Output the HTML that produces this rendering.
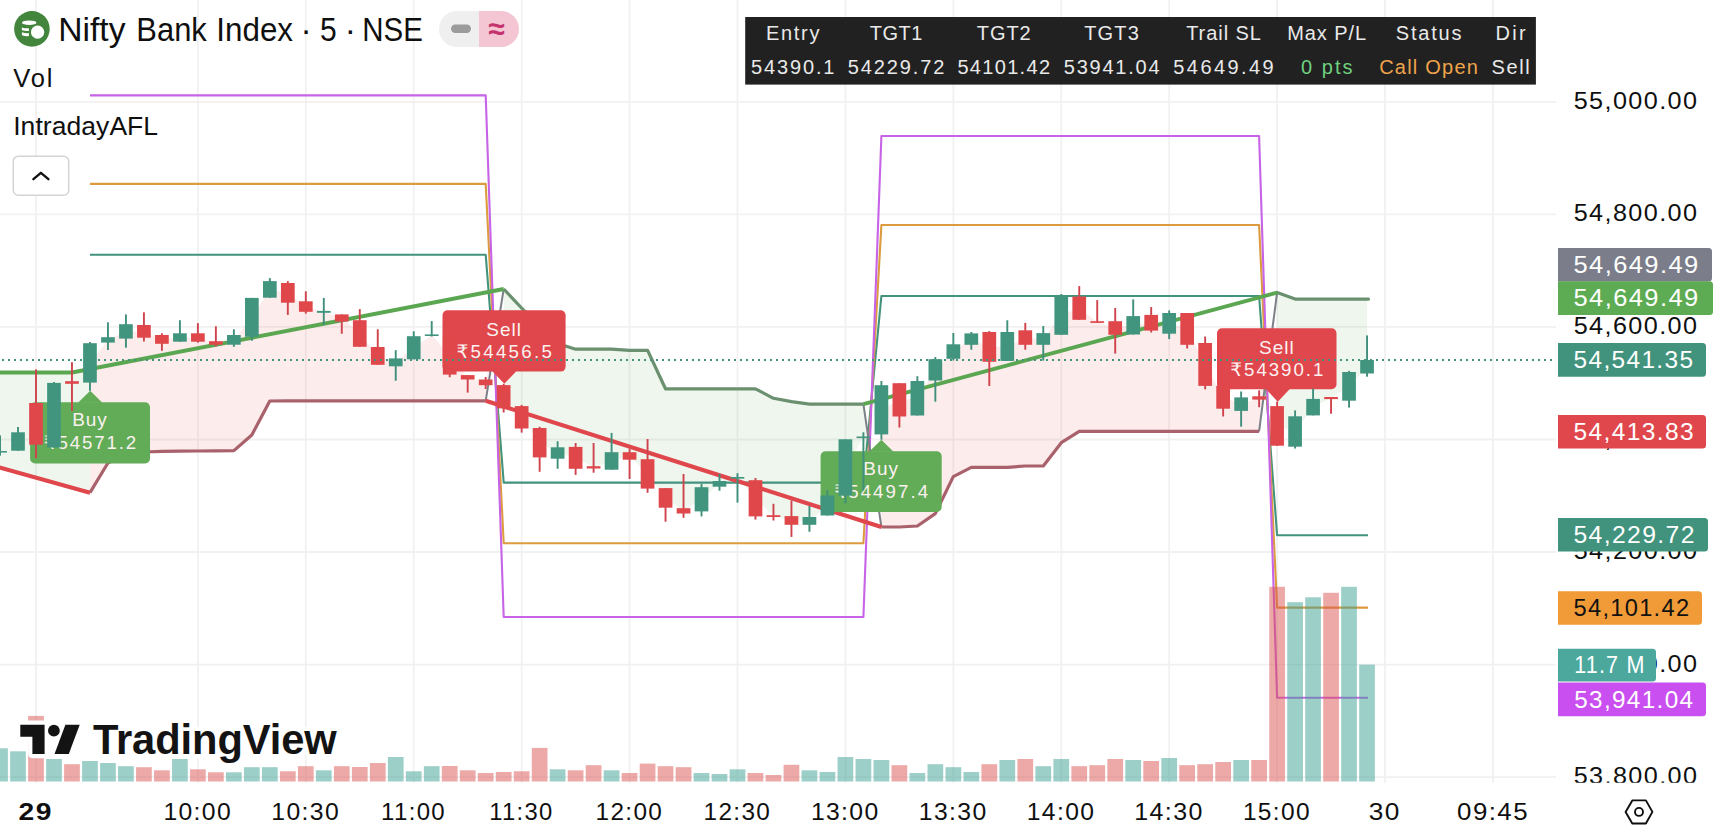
<!DOCTYPE html>
<html><head><meta charset="utf-8"><title>Nifty Bank Index chart</title>
<style>html,body{margin:0;padding:0;background:#fff}body{width:1718px;height:828px;overflow:hidden}svg{display:block}</style></head>
<body>
<svg width="1718" height="828" viewBox="0 0 1718 828" font-family="'Liberation Sans', 'DejaVu Sans', sans-serif">
<rect width="1718" height="828" fill="#fff"/>
<g stroke="#f1f1f1" stroke-width="1.8">
<line x1="36.0" y1="0" x2="36.0" y2="783"/>
<line x1="197.88299999999998" y1="0" x2="197.88299999999998" y2="783"/>
<line x1="305.80499999999995" y1="0" x2="305.80499999999995" y2="783"/>
<line x1="413.727" y1="0" x2="413.727" y2="783"/>
<line x1="521.6489999999999" y1="0" x2="521.6489999999999" y2="783"/>
<line x1="629.5709999999999" y1="0" x2="629.5709999999999" y2="783"/>
<line x1="737.4929999999999" y1="0" x2="737.4929999999999" y2="783"/>
<line x1="845.415" y1="0" x2="845.415" y2="783"/>
<line x1="953.3369999999999" y1="0" x2="953.3369999999999" y2="783"/>
<line x1="1061.259" y1="0" x2="1061.259" y2="783"/>
<line x1="1169.1809999999998" y1="0" x2="1169.1809999999998" y2="783"/>
<line x1="1277.1029999999998" y1="0" x2="1277.1029999999998" y2="783"/>
<line x1="1385.0249999999999" y1="0" x2="1385.0249999999999" y2="783"/>
<line x1="1492.947" y1="0" x2="1492.947" y2="783"/>
<line x1="0" y1="101.8" x2="1556" y2="101.8"/>
<line x1="0" y1="214.4" x2="1556" y2="214.4"/>
<line x1="0" y1="326.9" x2="1556" y2="326.9"/>
<line x1="0" y1="439.5" x2="1556" y2="439.5"/>
<line x1="0" y1="552.0" x2="1556" y2="552.0"/>
<line x1="0" y1="664.6" x2="1556" y2="664.6"/>
<line x1="0" y1="777.2" x2="1556" y2="777.2"/>
</g>
<polygon points="0.0,372.5 72.0,372.5 90.0,369.0 90.0,492.7 0.0,467.5" fill="rgba(92,166,82,0.10)"/>
<polygon points="90.0,492.7 107.9,463.0 125.9,454.0 143.9,452.0 161.9,451.4 179.9,451.2 197.9,451.0 215.9,450.8 233.9,450.6 251.8,435.0 269.8,401.0 287.8,400.8 305.8,400.8 323.8,400.8 341.8,400.8 359.8,400.8 377.8,400.8 395.7,400.8 413.7,400.8 431.7,400.8 449.7,400.8 467.7,400.8 485.7,400.8 503.7,289.0 485.7,382.4 467.7,377.3 449.7,355.3 431.7,335.2 413.7,347.8 395.7,362.4 377.8,355.9 359.8,333.5 341.8,318.0 323.8,311.9 305.8,306.6 287.8,292.9 269.8,289.4 251.8,317.4 233.9,339.9 215.9,342.9 197.9,337.5 179.9,337.5 161.9,339.4 143.9,331.4 125.9,331.4 107.9,339.9 90.0,362.9" fill="rgba(226,72,76,0.105)"/>
<polygon points="503.7,289.0 521.6,308.0 539.6,326.7 557.6,343.5 575.6,349.2 593.6,349.2 611.6,349.2 629.6,350.4 647.6,350.4 665.5,388.8 683.5,388.8 701.5,388.8 719.5,388.8 737.5,388.8 755.5,388.8 773.5,398.3 791.5,401.6 809.4,404.2 827.4,404.2 845.4,404.2 863.4,404.2 881.4,527.0 863.4,437.2 845.4,467.5 827.4,505.4 809.4,520.9 791.5,520.5 773.5,516.1 755.5,498.3 737.5,477.8 719.5,483.9 701.5,499.3 683.5,510.9 665.5,497.9 647.6,473.9 629.6,455.9 611.6,460.9 593.6,467.4 575.6,457.9 557.6,453.0 539.6,442.7 521.6,417.3 503.7,396.8" fill="rgba(92,166,82,0.10)"/>
<polygon points="881.4,527.0 899.4,527.0 917.4,526.0 935.3,513.6 953.3,476.6 971.3,467.4 989.3,467.4 1007.3,467.4 1025.3,466.0 1043.3,466.0 1061.3,442.7 1079.2,431.4 1097.2,431.4 1115.2,431.4 1133.2,431.4 1151.2,431.4 1169.2,431.4 1187.2,431.4 1205.2,431.4 1223.1,431.4 1241.1,431.4 1259.1,431.4 1277.1,292.6 1259.1,398.0 1241.1,404.1 1223.1,397.3 1205.2,364.4 1187.2,328.9 1169.2,323.4 1151.2,322.8 1133.2,325.3 1115.2,328.0 1097.2,322.0 1079.2,308.2 1061.3,315.1 1043.3,339.0 1025.3,337.6 1007.3,346.4 989.3,346.9 971.3,339.1 953.3,351.6 935.3,369.9 917.4,398.2 899.4,399.9 881.4,409.8" fill="rgba(226,72,76,0.105)"/>
<polygon points="1277.1,292.6 1295.1,299.1 1313.1,299.1 1331.1,299.1 1349.1,299.1 1367.0,299.1 1367.0,366.8 1349.1,386.4 1331.1,398.1 1313.1,407.1 1295.1,431.5 1277.1,425.9" fill="rgba(92,166,82,0.10)"/>
<polyline points="90.0,254.8 485.7,254.8 503.7,482.6 863.4,482.6 881.4,296.0 1259.1,296.0 1277.1,535.2 1368.0,535.2" fill="none" stroke="#42937d" stroke-width="2.1" stroke-linejoin="round"/>
<polyline points="90.0,183.9 485.7,183.9 503.7,543.2 863.4,543.2 881.4,225.0 1259.1,225.0 1277.1,607.6 1368.0,607.6" fill="none" stroke="#dc9b3e" stroke-width="2.1" stroke-linejoin="round"/>
<polyline points="90.0,95.4 485.7,95.4 503.7,617.0 863.4,617.0 881.4,136.0 1259.1,136.0 1277.1,697.8 1368.0,697.8" fill="none" stroke="#c763e6" stroke-width="2.1" stroke-linejoin="round"/>
<polyline points="485.7,400.8 503.7,289.0" fill="none" stroke="#7c8088" stroke-width="2" />
<polyline points="863.4,404.2 881.4,527.0" fill="none" stroke="#7c8088" stroke-width="2" />
<polyline points="1259.1,431.4 1277.1,292.6" fill="none" stroke="#7c8088" stroke-width="2" />
<polyline points="90.0,492.7 107.9,463.0 125.9,454.0 143.9,452.0 161.9,451.4 179.9,451.2 197.9,451.0 215.9,450.8 233.9,450.6 251.8,435.0 269.8,401.0 287.8,400.8 305.8,400.8 323.8,400.8 341.8,400.8 359.8,400.8 377.8,400.8 395.7,400.8 413.7,400.8 431.7,400.8 449.7,400.8 467.7,400.8 485.7,400.8" fill="none" stroke="#a9616b" stroke-width="3.2" stroke-linejoin="round"/>
<polyline points="881.4,527.0 899.4,527.0 917.4,526.0 935.3,513.6 953.3,476.6 971.3,467.4 989.3,467.4 1007.3,467.4 1025.3,466.0 1043.3,466.0 1061.3,442.7 1079.2,431.4 1097.2,431.4 1115.2,431.4 1133.2,431.4 1151.2,431.4 1169.2,431.4 1187.2,431.4 1205.2,431.4 1223.1,431.4 1241.1,431.4 1259.1,431.4" fill="none" stroke="#a9616b" stroke-width="3.2" stroke-linejoin="round"/>
<polyline points="503.7,289.0 521.6,308.0 539.6,326.7 557.6,343.5 575.6,349.2 593.6,349.2 611.6,349.2 629.6,350.4 647.6,350.4 665.5,388.8 683.5,388.8 701.5,388.8 719.5,388.8 737.5,388.8 755.5,388.8 773.5,398.3 791.5,401.6 809.4,404.2 827.4,404.2 845.4,404.2 863.4,404.2" fill="none" stroke="#6b9070" stroke-width="3.2" stroke-linejoin="round"/>
<polyline points="1277.1,292.6 1295.1,299.1 1313.1,299.1 1331.1,299.1 1349.1,299.1 1367.0,299.1 1368.5,299.1" fill="none" stroke="#6b9070" stroke-width="3.2" stroke-linejoin="round" stroke-linecap="round"/>
<polyline points="0.0,372.5 72.0,372.5 503.7,289.0" fill="none" stroke="#5aa651" stroke-width="3.9" stroke-linejoin="round"/>
<polyline points="863.4,404.2 1277.1,292.6" fill="none" stroke="#5aa651" stroke-width="3.9" />
<polyline points="-2.0,467.0 90.0,492.7" fill="none" stroke="#e0474c" stroke-width="4.2" />
<polyline points="485.7,400.8 881.4,527.0" fill="none" stroke="#e0474c" stroke-width="4.2" />
<rect x="30.1" y="402.2" width="119.9" height="61.3" rx="5" fill="#62ab57"/>
<polygon points="78.0,402.7 90.2,390.8 102.4,402.7" fill="#62ab57"/>
<text x="90.0" y="425.7" font-size="19" fill="#fbf1f0" text-anchor="middle" letter-spacing="1">Buy</text>
<text x="90.0" y="449.1" font-size="18.7" fill="#fbf1f0" text-anchor="middle" textLength="92.4" lengthAdjust="spacing" >₹54571.2</text>
<rect x="442.5" y="310.3" width="123.1" height="61.3" rx="5" fill="#e0474c"/>
<polygon points="492.1,371.1 504.3,383.8 516.5,371.1" fill="#e0474c"/>
<text x="504.1" y="335.9" font-size="19" fill="#fbf1f0" text-anchor="middle" letter-spacing="1">Sell</text>
<text x="504.1" y="358.2" font-size="18.7" fill="#fbf1f0" text-anchor="middle" textLength="95.4" lengthAdjust="spacing" >₹54456.5</text>
<rect x="820.6" y="451.3" width="121.1" height="60.7" rx="5" fill="#62ab57"/>
<polygon points="869.1,451.8 881.3,439.7 893.5,451.8" fill="#62ab57"/>
<text x="881.2" y="474.8" font-size="19" fill="#fbf1f0" text-anchor="middle" letter-spacing="1">Buy</text>
<text x="881.2" y="498.2" font-size="18.7" fill="#fbf1f0" text-anchor="middle" textLength="93.9" lengthAdjust="spacing" >₹54497.4</text>
<rect x="1217" y="328.3" width="119.5" height="61.0" rx="5" fill="#e0474c"/>
<polygon points="1265.6,388.8 1277.8,401.7 1290.0,388.8" fill="#e0474c"/>
<text x="1276.8" y="353.9" font-size="19" fill="#fbf1f0" text-anchor="middle" letter-spacing="1">Sell</text>
<text x="1276.8" y="376.2" font-size="18.7" fill="#fbf1f0" text-anchor="middle" textLength="93.1" lengthAdjust="spacing" >₹54390.1</text>
<g>
<rect x="-0.92" y="435.4" width="1.9" height="20.2" fill="#3f8f7b"/>
<rect x="-6.82" y="451.0" width="13.7" height="1.6" fill="#41957f"/>
<rect x="17.06" y="427.0" width="1.9" height="23.7" fill="#3f8f7b"/>
<rect x="11.16" y="432.3" width="13.7" height="18.4" fill="#41957f"/>
<rect x="35.05" y="369.4" width="1.9" height="88.8" fill="#cf434c"/>
<rect x="29.15" y="403.0" width="13.7" height="41.7" fill="#e0474b"/>
<rect x="53.04" y="382.0" width="1.9" height="65.5" fill="#3f8f7b"/>
<rect x="47.14" y="382.9" width="13.7" height="64.6" fill="#41957f"/>
<rect x="71.02" y="362.2" width="1.9" height="48.8" fill="#cf434c"/>
<rect x="65.12" y="381.2" width="13.7" height="2.6" fill="#e0474b"/>
<rect x="89.01" y="342.0" width="1.9" height="48.8" fill="#3f8f7b"/>
<rect x="83.11" y="343.2" width="13.7" height="39.4" fill="#41957f"/>
<rect x="107.00" y="322.3" width="1.9" height="27.7" fill="#3f8f7b"/>
<rect x="101.10" y="337.2" width="13.7" height="5.4" fill="#41957f"/>
<rect x="124.98" y="314.4" width="1.9" height="33.3" fill="#3f8f7b"/>
<rect x="119.08" y="324.2" width="13.7" height="14.4" fill="#41957f"/>
<rect x="142.97" y="312.3" width="1.9" height="29.2" fill="#cf434c"/>
<rect x="137.07" y="325.0" width="13.7" height="12.7" fill="#e0474b"/>
<rect x="160.96" y="333.3" width="1.9" height="17.5" fill="#cf434c"/>
<rect x="155.06" y="335.0" width="13.7" height="8.8" fill="#e0474b"/>
<rect x="178.95" y="320.2" width="1.9" height="21.5" fill="#3f8f7b"/>
<rect x="173.05" y="333.3" width="13.7" height="8.4" fill="#41957f"/>
<rect x="196.93" y="323.1" width="1.9" height="19.5" fill="#cf434c"/>
<rect x="191.03" y="333.3" width="13.7" height="8.4" fill="#e0474b"/>
<rect x="214.92" y="326.3" width="1.9" height="20.1" fill="#cf434c"/>
<rect x="209.02" y="341.2" width="13.7" height="3.5" fill="#e0474b"/>
<rect x="232.91" y="329.3" width="1.9" height="17.5" fill="#3f8f7b"/>
<rect x="227.01" y="335.0" width="13.7" height="9.7" fill="#41957f"/>
<rect x="250.89" y="297.9" width="1.9" height="42.8" fill="#3f8f7b"/>
<rect x="244.99" y="297.9" width="13.7" height="38.9" fill="#41957f"/>
<rect x="268.88" y="278.1" width="1.9" height="19.6" fill="#3f8f7b"/>
<rect x="262.98" y="281.1" width="13.7" height="16.6" fill="#41957f"/>
<rect x="286.87" y="281.1" width="1.9" height="33.8" fill="#cf434c"/>
<rect x="280.97" y="283.0" width="13.7" height="19.7" fill="#e0474b"/>
<rect x="304.85" y="291.3" width="1.9" height="22.4" fill="#cf434c"/>
<rect x="298.95" y="301.3" width="13.7" height="10.5" fill="#e0474b"/>
<rect x="322.84" y="297.9" width="1.9" height="27.1" fill="#3f8f7b"/>
<rect x="316.94" y="310.9" width="13.7" height="1.9" fill="#41957f"/>
<rect x="340.83" y="314.4" width="1.9" height="19.4" fill="#cf434c"/>
<rect x="334.93" y="314.4" width="13.7" height="7.2" fill="#e0474b"/>
<rect x="358.82" y="309.1" width="1.9" height="37.7" fill="#cf434c"/>
<rect x="352.92" y="320.2" width="13.7" height="26.6" fill="#e0474b"/>
<rect x="376.80" y="329.3" width="1.9" height="35.5" fill="#cf434c"/>
<rect x="370.90" y="347.0" width="13.7" height="17.8" fill="#e0474b"/>
<rect x="394.79" y="350.2" width="1.9" height="30.5" fill="#3f8f7b"/>
<rect x="388.89" y="358.4" width="13.7" height="7.9" fill="#41957f"/>
<rect x="412.78" y="331.3" width="1.9" height="28.0" fill="#3f8f7b"/>
<rect x="406.88" y="336.2" width="13.7" height="23.1" fill="#41957f"/>
<rect x="430.76" y="321.1" width="1.9" height="15.4" fill="#3f8f7b"/>
<rect x="424.86" y="334.4" width="13.7" height="1.6" fill="#41957f"/>
<rect x="448.75" y="336.0" width="1.9" height="41.2" fill="#cf434c"/>
<rect x="442.85" y="336.0" width="13.7" height="38.6" fill="#e0474b"/>
<rect x="466.74" y="375.1" width="1.9" height="17.5" fill="#cf434c"/>
<rect x="460.84" y="375.1" width="13.7" height="4.4" fill="#e0474b"/>
<rect x="484.72" y="377.0" width="1.9" height="12.0" fill="#cf434c"/>
<rect x="478.82" y="379.5" width="13.7" height="5.7" fill="#e0474b"/>
<rect x="502.71" y="383.8" width="1.9" height="28.7" fill="#cf434c"/>
<rect x="496.81" y="385.1" width="13.7" height="23.3" fill="#e0474b"/>
<rect x="520.70" y="404.9" width="1.9" height="27.7" fill="#cf434c"/>
<rect x="514.80" y="406.1" width="13.7" height="22.4" fill="#e0474b"/>
<rect x="538.69" y="426.8" width="1.9" height="45.0" fill="#cf434c"/>
<rect x="532.79" y="428.0" width="13.7" height="29.4" fill="#e0474b"/>
<rect x="556.67" y="441.3" width="1.9" height="27.5" fill="#3f8f7b"/>
<rect x="550.77" y="447.3" width="13.7" height="11.4" fill="#41957f"/>
<rect x="574.66" y="443.0" width="1.9" height="31.9" fill="#cf434c"/>
<rect x="568.76" y="446.9" width="13.7" height="21.9" fill="#e0474b"/>
<rect x="592.65" y="443.0" width="1.9" height="29.7" fill="#cf434c"/>
<rect x="586.75" y="466.2" width="13.7" height="2.3" fill="#e0474b"/>
<rect x="610.63" y="432.9" width="1.9" height="36.8" fill="#3f8f7b"/>
<rect x="604.73" y="452.2" width="13.7" height="17.5" fill="#41957f"/>
<rect x="628.62" y="448.7" width="1.9" height="30.3" fill="#cf434c"/>
<rect x="622.72" y="452.2" width="13.7" height="7.5" fill="#e0474b"/>
<rect x="646.61" y="439.0" width="1.9" height="53.8" fill="#cf434c"/>
<rect x="640.71" y="459.2" width="13.7" height="29.4" fill="#e0474b"/>
<rect x="664.59" y="488.1" width="1.9" height="33.6" fill="#cf434c"/>
<rect x="658.69" y="488.1" width="13.7" height="19.6" fill="#e0474b"/>
<rect x="682.58" y="474.0" width="1.9" height="43.8" fill="#cf434c"/>
<rect x="676.68" y="508.2" width="13.7" height="5.3" fill="#e0474b"/>
<rect x="700.57" y="483.7" width="1.9" height="32.7" fill="#3f8f7b"/>
<rect x="694.67" y="487.2" width="13.7" height="24.2" fill="#41957f"/>
<rect x="718.56" y="474.0" width="1.9" height="16.7" fill="#3f8f7b"/>
<rect x="712.66" y="481.0" width="13.7" height="5.7" fill="#41957f"/>
<rect x="736.54" y="473.2" width="1.9" height="29.4" fill="#3f8f7b"/>
<rect x="730.64" y="477.0" width="13.7" height="1.6" fill="#41957f"/>
<rect x="754.53" y="478.0" width="1.9" height="41.6" fill="#cf434c"/>
<rect x="748.63" y="480.2" width="13.7" height="36.2" fill="#e0474b"/>
<rect x="772.52" y="503.8" width="1.9" height="16.7" fill="#cf434c"/>
<rect x="766.62" y="515.2" width="13.7" height="1.8" fill="#e0474b"/>
<rect x="790.50" y="500.4" width="1.9" height="36.5" fill="#cf434c"/>
<rect x="784.60" y="516.1" width="13.7" height="8.7" fill="#e0474b"/>
<rect x="808.49" y="506.0" width="1.9" height="25.8" fill="#3f8f7b"/>
<rect x="802.59" y="517.0" width="13.7" height="7.8" fill="#41957f"/>
<rect x="826.48" y="490.3" width="1.9" height="25.2" fill="#3f8f7b"/>
<rect x="820.58" y="495.4" width="13.7" height="20.1" fill="#41957f"/>
<rect x="844.46" y="439.3" width="1.9" height="64.2" fill="#3f8f7b"/>
<rect x="838.56" y="439.3" width="13.7" height="56.4" fill="#41957f"/>
<rect x="862.45" y="432.3" width="1.9" height="58.1" fill="#3f8f7b"/>
<rect x="856.55" y="436.5" width="13.7" height="1.6" fill="#41957f"/>
<rect x="880.44" y="381.0" width="1.9" height="58.7" fill="#3f8f7b"/>
<rect x="874.54" y="385.2" width="13.7" height="49.2" fill="#41957f"/>
<rect x="898.43" y="383.2" width="1.9" height="44.3" fill="#cf434c"/>
<rect x="892.53" y="383.2" width="13.7" height="33.3" fill="#e0474b"/>
<rect x="916.41" y="376.2" width="1.9" height="39.3" fill="#3f8f7b"/>
<rect x="910.51" y="381.0" width="13.7" height="34.5" fill="#41957f"/>
<rect x="934.40" y="357.0" width="1.9" height="44.7" fill="#3f8f7b"/>
<rect x="928.50" y="359.2" width="13.7" height="21.3" fill="#41957f"/>
<rect x="952.39" y="333.0" width="1.9" height="27.5" fill="#3f8f7b"/>
<rect x="946.49" y="344.3" width="13.7" height="14.5" fill="#41957f"/>
<rect x="970.37" y="332.0" width="1.9" height="17.7" fill="#3f8f7b"/>
<rect x="964.47" y="333.4" width="13.7" height="11.4" fill="#41957f"/>
<rect x="988.36" y="331.1" width="1.9" height="54.9" fill="#cf434c"/>
<rect x="982.46" y="332.0" width="13.7" height="29.8" fill="#e0474b"/>
<rect x="1006.35" y="320.3" width="1.9" height="40.6" fill="#3f8f7b"/>
<rect x="1000.45" y="332.0" width="13.7" height="28.9" fill="#41957f"/>
<rect x="1024.33" y="322.9" width="1.9" height="26.8" fill="#cf434c"/>
<rect x="1018.43" y="330.3" width="13.7" height="14.5" fill="#e0474b"/>
<rect x="1042.32" y="326.1" width="1.9" height="34.5" fill="#3f8f7b"/>
<rect x="1036.42" y="333.1" width="13.7" height="11.7" fill="#41957f"/>
<rect x="1060.31" y="294.0" width="1.9" height="40.8" fill="#3f8f7b"/>
<rect x="1054.41" y="295.4" width="13.7" height="39.4" fill="#41957f"/>
<rect x="1078.30" y="286.1" width="1.9" height="33.7" fill="#cf434c"/>
<rect x="1072.40" y="296.6" width="13.7" height="23.2" fill="#e0474b"/>
<rect x="1096.28" y="300.1" width="1.9" height="22.8" fill="#cf434c"/>
<rect x="1090.38" y="321.2" width="13.7" height="1.7" fill="#e0474b"/>
<rect x="1114.27" y="308.0" width="1.9" height="45.6" fill="#cf434c"/>
<rect x="1108.37" y="321.2" width="13.7" height="13.6" fill="#e0474b"/>
<rect x="1132.26" y="299.4" width="1.9" height="35.1" fill="#3f8f7b"/>
<rect x="1126.36" y="316.1" width="13.7" height="18.4" fill="#41957f"/>
<rect x="1150.24" y="307.1" width="1.9" height="25.4" fill="#cf434c"/>
<rect x="1144.34" y="314.9" width="13.7" height="15.7" fill="#e0474b"/>
<rect x="1168.23" y="310.4" width="1.9" height="28.7" fill="#3f8f7b"/>
<rect x="1162.33" y="313.0" width="13.7" height="20.7" fill="#41957f"/>
<rect x="1186.22" y="313.0" width="1.9" height="35.5" fill="#cf434c"/>
<rect x="1180.32" y="313.0" width="13.7" height="31.8" fill="#e0474b"/>
<rect x="1204.20" y="336.5" width="1.9" height="52.8" fill="#cf434c"/>
<rect x="1198.31" y="343.0" width="13.7" height="42.9" fill="#e0474b"/>
<rect x="1222.19" y="385.9" width="1.9" height="30.6" fill="#cf434c"/>
<rect x="1216.29" y="385.9" width="13.7" height="22.8" fill="#e0474b"/>
<rect x="1240.18" y="391.5" width="1.9" height="35.2" fill="#3f8f7b"/>
<rect x="1234.28" y="397.4" width="13.7" height="13.5" fill="#41957f"/>
<rect x="1258.17" y="390.4" width="1.9" height="16.8" fill="#cf434c"/>
<rect x="1252.27" y="396.3" width="13.7" height="3.3" fill="#e0474b"/>
<rect x="1276.15" y="401.7" width="1.9" height="44.0" fill="#cf434c"/>
<rect x="1270.25" y="406.1" width="13.7" height="39.6" fill="#e0474b"/>
<rect x="1294.14" y="410.4" width="1.9" height="38.1" fill="#3f8f7b"/>
<rect x="1288.24" y="416.3" width="13.7" height="30.4" fill="#41957f"/>
<rect x="1312.13" y="388.7" width="1.9" height="26.7" fill="#3f8f7b"/>
<rect x="1306.23" y="398.9" width="13.7" height="16.5" fill="#41957f"/>
<rect x="1330.11" y="397.0" width="1.9" height="16.7" fill="#cf434c"/>
<rect x="1324.21" y="397.0" width="13.7" height="2.1" fill="#e0474b"/>
<rect x="1348.10" y="370.9" width="1.9" height="36.7" fill="#3f8f7b"/>
<rect x="1342.20" y="372.0" width="13.7" height="28.7" fill="#41957f"/>
<rect x="1366.09" y="335.4" width="1.9" height="41.3" fill="#3f8f7b"/>
<rect x="1360.19" y="360.0" width="13.7" height="13.5" fill="#41957f"/>
</g>
<g>
<rect x="-7.82" y="748.3" width="15.7" height="33.2" fill="rgba(59,159,147,0.5)"/>
<rect x="10.16" y="751.3" width="15.7" height="30.2" fill="rgba(59,159,147,0.5)"/>
<rect x="28.15" y="715.9" width="15.7" height="65.6" fill="rgba(218,83,79,0.5)"/>
<rect x="46.14" y="759.0" width="15.7" height="22.5" fill="rgba(59,159,147,0.5)"/>
<rect x="64.12" y="764.2" width="15.7" height="17.3" fill="rgba(218,83,79,0.5)"/>
<rect x="82.11" y="761.0" width="15.7" height="20.5" fill="rgba(59,159,147,0.5)"/>
<rect x="100.10" y="763.0" width="15.7" height="18.5" fill="rgba(59,159,147,0.5)"/>
<rect x="118.08" y="766.2" width="15.7" height="15.3" fill="rgba(59,159,147,0.5)"/>
<rect x="136.07" y="767.2" width="15.7" height="14.3" fill="rgba(218,83,79,0.5)"/>
<rect x="154.06" y="770.3" width="15.7" height="11.2" fill="rgba(218,83,79,0.5)"/>
<rect x="172.05" y="759.0" width="15.7" height="22.5" fill="rgba(59,159,147,0.5)"/>
<rect x="190.03" y="769.3" width="15.7" height="12.2" fill="rgba(218,83,79,0.5)"/>
<rect x="208.02" y="772.3" width="15.7" height="9.2" fill="rgba(218,83,79,0.5)"/>
<rect x="226.01" y="772.3" width="15.7" height="9.2" fill="rgba(59,159,147,0.5)"/>
<rect x="243.99" y="767.2" width="15.7" height="14.3" fill="rgba(59,159,147,0.5)"/>
<rect x="261.98" y="767.2" width="15.7" height="14.3" fill="rgba(59,159,147,0.5)"/>
<rect x="279.97" y="771.3" width="15.7" height="10.2" fill="rgba(218,83,79,0.5)"/>
<rect x="297.95" y="766.2" width="15.7" height="15.3" fill="rgba(218,83,79,0.5)"/>
<rect x="315.94" y="770.3" width="15.7" height="11.2" fill="rgba(59,159,147,0.5)"/>
<rect x="333.93" y="766.2" width="15.7" height="15.3" fill="rgba(218,83,79,0.5)"/>
<rect x="351.92" y="767.0" width="15.7" height="14.5" fill="rgba(218,83,79,0.5)"/>
<rect x="369.90" y="763.0" width="15.7" height="18.5" fill="rgba(218,83,79,0.5)"/>
<rect x="387.89" y="757.0" width="15.7" height="24.5" fill="rgba(59,159,147,0.5)"/>
<rect x="405.88" y="771.3" width="15.7" height="10.2" fill="rgba(59,159,147,0.5)"/>
<rect x="423.86" y="766.2" width="15.7" height="15.3" fill="rgba(59,159,147,0.5)"/>
<rect x="441.85" y="766.0" width="15.7" height="15.5" fill="rgba(218,83,79,0.5)"/>
<rect x="459.84" y="770.3" width="15.7" height="11.2" fill="rgba(218,83,79,0.5)"/>
<rect x="477.82" y="773.0" width="15.7" height="8.5" fill="rgba(218,83,79,0.5)"/>
<rect x="495.81" y="772.0" width="15.7" height="9.5" fill="rgba(218,83,79,0.5)"/>
<rect x="513.80" y="771.3" width="15.7" height="10.2" fill="rgba(218,83,79,0.5)"/>
<rect x="531.79" y="747.9" width="15.7" height="33.6" fill="rgba(218,83,79,0.5)"/>
<rect x="549.77" y="769.3" width="15.7" height="12.2" fill="rgba(59,159,147,0.5)"/>
<rect x="567.76" y="770.3" width="15.7" height="11.2" fill="rgba(218,83,79,0.5)"/>
<rect x="585.75" y="765.2" width="15.7" height="16.3" fill="rgba(218,83,79,0.5)"/>
<rect x="603.73" y="770.3" width="15.7" height="11.2" fill="rgba(59,159,147,0.5)"/>
<rect x="621.72" y="773.0" width="15.7" height="8.5" fill="rgba(218,83,79,0.5)"/>
<rect x="639.71" y="763.6" width="15.7" height="17.9" fill="rgba(218,83,79,0.5)"/>
<rect x="657.69" y="766.2" width="15.7" height="15.3" fill="rgba(218,83,79,0.5)"/>
<rect x="675.68" y="767.2" width="15.7" height="14.3" fill="rgba(218,83,79,0.5)"/>
<rect x="693.67" y="773.0" width="15.7" height="8.5" fill="rgba(59,159,147,0.5)"/>
<rect x="711.66" y="774.0" width="15.7" height="7.5" fill="rgba(59,159,147,0.5)"/>
<rect x="729.64" y="769.3" width="15.7" height="12.2" fill="rgba(59,159,147,0.5)"/>
<rect x="747.63" y="773.0" width="15.7" height="8.5" fill="rgba(218,83,79,0.5)"/>
<rect x="765.62" y="775.0" width="15.7" height="6.5" fill="rgba(218,83,79,0.5)"/>
<rect x="783.60" y="764.8" width="15.7" height="16.7" fill="rgba(218,83,79,0.5)"/>
<rect x="801.59" y="770.3" width="15.7" height="11.2" fill="rgba(59,159,147,0.5)"/>
<rect x="819.58" y="772.0" width="15.7" height="9.5" fill="rgba(59,159,147,0.5)"/>
<rect x="837.56" y="757.0" width="15.7" height="24.5" fill="rgba(59,159,147,0.5)"/>
<rect x="855.55" y="759.0" width="15.7" height="22.5" fill="rgba(59,159,147,0.5)"/>
<rect x="873.54" y="760.0" width="15.7" height="21.5" fill="rgba(59,159,147,0.5)"/>
<rect x="891.53" y="765.2" width="15.7" height="16.3" fill="rgba(218,83,79,0.5)"/>
<rect x="909.51" y="773.0" width="15.7" height="8.5" fill="rgba(59,159,147,0.5)"/>
<rect x="927.50" y="764.2" width="15.7" height="17.3" fill="rgba(59,159,147,0.5)"/>
<rect x="945.49" y="767.2" width="15.7" height="14.3" fill="rgba(59,159,147,0.5)"/>
<rect x="963.47" y="772.0" width="15.7" height="9.5" fill="rgba(59,159,147,0.5)"/>
<rect x="981.46" y="764.2" width="15.7" height="17.3" fill="rgba(218,83,79,0.5)"/>
<rect x="999.45" y="760.0" width="15.7" height="21.5" fill="rgba(59,159,147,0.5)"/>
<rect x="1017.43" y="759.0" width="15.7" height="22.5" fill="rgba(218,83,79,0.5)"/>
<rect x="1035.42" y="766.2" width="15.7" height="15.3" fill="rgba(59,159,147,0.5)"/>
<rect x="1053.41" y="759.0" width="15.7" height="22.5" fill="rgba(59,159,147,0.5)"/>
<rect x="1071.40" y="766.2" width="15.7" height="15.3" fill="rgba(218,83,79,0.5)"/>
<rect x="1089.38" y="765.2" width="15.7" height="16.3" fill="rgba(218,83,79,0.5)"/>
<rect x="1107.37" y="759.0" width="15.7" height="22.5" fill="rgba(218,83,79,0.5)"/>
<rect x="1125.36" y="760.0" width="15.7" height="21.5" fill="rgba(59,159,147,0.5)"/>
<rect x="1143.34" y="761.0" width="15.7" height="20.5" fill="rgba(218,83,79,0.5)"/>
<rect x="1161.33" y="758.0" width="15.7" height="23.5" fill="rgba(59,159,147,0.5)"/>
<rect x="1179.32" y="765.2" width="15.7" height="16.3" fill="rgba(218,83,79,0.5)"/>
<rect x="1197.31" y="764.2" width="15.7" height="17.3" fill="rgba(218,83,79,0.5)"/>
<rect x="1215.29" y="762.0" width="15.7" height="19.5" fill="rgba(218,83,79,0.5)"/>
<rect x="1233.28" y="760.0" width="15.7" height="21.5" fill="rgba(59,159,147,0.5)"/>
<rect x="1251.27" y="760.0" width="15.7" height="21.5" fill="rgba(218,83,79,0.5)"/>
<rect x="1269.25" y="586.8" width="15.7" height="194.7" fill="rgba(218,83,79,0.5)"/>
<rect x="1287.24" y="602.2" width="15.7" height="179.3" fill="rgba(59,159,147,0.5)"/>
<rect x="1305.23" y="597.3" width="15.7" height="184.2" fill="rgba(59,159,147,0.5)"/>
<rect x="1323.21" y="592.8" width="15.7" height="188.7" fill="rgba(218,83,79,0.5)"/>
<rect x="1341.20" y="586.8" width="15.7" height="194.7" fill="rgba(59,159,147,0.5)"/>
<rect x="1359.19" y="664.6" width="15.7" height="116.9" fill="rgba(59,159,147,0.5)"/>
</g>
<line x1="2" y1="360" x2="1556" y2="360" stroke="#42937d" stroke-width="2" stroke-dasharray="2 4"/>
<defs><filter id="hb" x="-5%" y="-20%" width="110%" height="140%"><feGaussianBlur stdDeviation="0.7"/></filter></defs>
<g stroke="#fff" stroke-width="8.5" stroke-linejoin="round" fill="#fff" filter="url(#hb)"><path d="M20.3 724.8H44.6V754.1H32.4V736.7H20.3Z"/><circle cx="53.9" cy="730.7" r="5.9"/><path d="M65.4 724.8H79.7L68.8 754.1H54.5Z"/></g>
<text x="92.9" y="754.1" font-size="41.7" fill="#fff" textLength="243.8" lengthAdjust="spacing" font-weight="bold" stroke="#fff" stroke-width="8.5" stroke-linejoin="round" filter="url(#hb)">TradingView</text>
<g fill="#131313"><path d="M20.3 724.8H44.6V754.1H32.4V736.7H20.3Z"/><circle cx="53.9" cy="730.7" r="5.9"/><path d="M65.4 724.8H79.7L68.8 754.1H54.5Z"/></g>
<text x="92.9" y="754.1" font-size="41.7" fill="#131313" textLength="243.8" lengthAdjust="spacing" font-weight="bold" >TradingView</text>
<circle cx="31.9" cy="28.9" r="17.8" fill="#43853d"/>
<g fill="#fff"><ellipse cx="29.2" cy="22.7" rx="7.2" ry="2.3"/>
<path d="M21.9 27.4 Q25.4 28.6 28.9 28.2 L28.9 30.9 Q25.4 31.3 21.9 30.2Z"/>
<path d="M21.9 32.2 Q25.4 33.4 28.9 33.1 L28.9 36.1 Q25.4 36.4 21.9 35.3Z"/>
<circle cx="37.6" cy="32.2" r="7.6" fill="#43853d"/><circle cx="37.6" cy="32.2" r="6.6"/></g>
<text x="58.3" y="41.0" font-size="33.5" fill="#0f0f0f" textLength="67.2" lengthAdjust="spacingAndGlyphs">Nifty</text>
<text x="136.3" y="41.0" font-size="33.5" fill="#0f0f0f" textLength="70.5" lengthAdjust="spacingAndGlyphs">Bank</text>
<text x="216.3" y="41.0" font-size="33.5" fill="#0f0f0f" textLength="76.7" lengthAdjust="spacingAndGlyphs">Index</text>
<text x="306.1" y="41.0" font-size="33.5" fill="#0f0f0f" text-anchor="middle" >·</text>
<text x="320.1" y="41.0" font-size="33.5" fill="#0f0f0f" textLength="16.7" lengthAdjust="spacingAndGlyphs">5</text>
<text x="350.3" y="41.0" font-size="33.5" fill="#0f0f0f" text-anchor="middle" >·</text>
<text x="362.2" y="41.0" font-size="33.5" fill="#0f0f0f" textLength="60.6" lengthAdjust="spacingAndGlyphs">NSE</text>
<path d="M457 11H479V47H457A18 18 0 0 1 457 11Z" fill="#efefef"/>
<path d="M479 11H501A18 18 0 0 1 501 47H479Z" fill="#f4c6d4"/>
<rect x="451" y="24.6" width="20" height="8.4" rx="4.2" fill="#9b9b9b"/>
<text x="496.6" y="38.5" font-size="30" fill="#c4336e" text-anchor="middle" font-weight="bold" >≈</text>
<text x="13.2" y="86.9" font-size="25.5" fill="#0f0f0f" textLength="39.3" lengthAdjust="spacing" >Vol</text>
<text x="13.2" y="135.2" font-size="26.5" fill="#0f0f0f" textLength="144.9" lengthAdjust="spacing" >IntradayAFL</text>
<rect x="13.3" y="156.2" width="55.4" height="39" rx="5" fill="#fff" stroke="#d4d4d4" stroke-width="1.5"/>
<polyline points="33.4,179.2 40.9,172.8 48.4,179.2" fill="none" stroke="#111" stroke-width="2.4" stroke-linecap="round" stroke-linejoin="round"/>
<rect x="745.2" y="17" width="790.7" height="67.6" fill="#212121"/>
<text x="766.0" y="40.3" font-size="20" fill="#e9e9e9" textLength="53.4" lengthAdjust="spacing" >Entry</text>
<text x="751.1" y="74.1" font-size="20" fill="#e9e9e9" textLength="83.3" lengthAdjust="spacing" >54390.1</text>
<text x="869.8" y="40.3" font-size="20" fill="#e9e9e9" textLength="52.5" lengthAdjust="spacing" >TGT1</text>
<text x="847.7" y="74.1" font-size="20" fill="#e9e9e9" textLength="96.7" lengthAdjust="spacing" >54229.72</text>
<text x="976.8" y="40.3" font-size="20" fill="#e9e9e9" textLength="53.9" lengthAdjust="spacing" >TGT2</text>
<text x="957.4" y="74.1" font-size="20" fill="#e9e9e9" textLength="92.6" lengthAdjust="spacing" >54101.42</text>
<text x="1084.2" y="40.3" font-size="20" fill="#e9e9e9" textLength="54.7" lengthAdjust="spacing" >TGT3</text>
<text x="1063.8" y="74.1" font-size="20" fill="#e9e9e9" textLength="95.7" lengthAdjust="spacing" >53941.04</text>
<text x="1186.2" y="40.3" font-size="20" fill="#e9e9e9" textLength="74.7" lengthAdjust="spacing" >Trail SL</text>
<text x="1173.3" y="74.1" font-size="20" fill="#e9e9e9" textLength="100.4" lengthAdjust="spacing" >54649.49</text>
<text x="1287.2" y="40.3" font-size="20" fill="#e9e9e9" textLength="78.9" lengthAdjust="spacing" >Max P/L</text>
<text x="1301.0" y="74.1" font-size="20" fill="#6fd07f" textLength="51.5" lengthAdjust="spacing" >0 pts</text>
<text x="1395.8" y="40.3" font-size="20" fill="#e9e9e9" textLength="65.6" lengthAdjust="spacing" >Status</text>
<text x="1379.2" y="74.1" font-size="20" fill="#f0a44a" textLength="98.7" lengthAdjust="spacing" >Call Open</text>
<text x="1495.6" y="40.3" font-size="20" fill="#e9e9e9" textLength="30.0" lengthAdjust="spacing" >Dir</text>
<text x="1491.6" y="74.1" font-size="20" fill="#e9e9e9" textLength="38.0" lengthAdjust="spacing" >Sell</text>
<rect x="1557" y="0" width="161" height="828" fill="#fff"/>
<clipPath id="pc"><rect x="1557" y="0" width="161" height="782.8"/></clipPath><g clip-path="url(#pc)">
<text x="1573.7" y="108.8" font-size="23.5" fill="#0f0f0f" textLength="124.7" lengthAdjust="spacingAndGlyphs" letter-spacing="1.3" >55,000.00</text>
<text x="1573.7" y="221.4" font-size="23.5" fill="#0f0f0f" textLength="124.7" lengthAdjust="spacingAndGlyphs" letter-spacing="1.3" >54,800.00</text>
<text x="1573.7" y="333.9" font-size="23.5" fill="#0f0f0f" textLength="124.7" lengthAdjust="spacingAndGlyphs" letter-spacing="1.3" >54,600.00</text>
<text x="1573.7" y="446.5" font-size="23.5" fill="#0f0f0f" textLength="124.7" lengthAdjust="spacingAndGlyphs" letter-spacing="1.3" >54,400.00</text>
<text x="1573.7" y="559.0" font-size="23.5" fill="#0f0f0f" textLength="124.7" lengthAdjust="spacingAndGlyphs" letter-spacing="1.3" >54,200.00</text>
<text x="1573.7" y="671.6" font-size="23.5" fill="#0f0f0f" textLength="124.7" lengthAdjust="spacingAndGlyphs" letter-spacing="1.3" >54,000.00</text>
<text x="1573.7" y="784.2" font-size="23.5" fill="#0f0f0f" textLength="124.7" lengthAdjust="spacingAndGlyphs" letter-spacing="1.3" >53,800.00</text>
</g>
<path d="M1558 247.9H1708.5Q1712 247.9 1712 251.4V278.0Q1712 281.5 1708.5 281.5H1558Z" fill="#7b7e8a"/>
<text x="1573.5" y="272.8" font-size="23.5" fill="#fff" textLength="126.1" lengthAdjust="spacingAndGlyphs" letter-spacing="1.3" >54,649.49</text>
<path d="M1558 281.3H1709.5Q1713 281.3 1713 284.8V311.4Q1713 314.9 1709.5 314.9H1558Z" fill="#5dab52"/>
<text x="1573.5" y="306.2" font-size="23.5" fill="#fff" textLength="126.1" lengthAdjust="spacingAndGlyphs" letter-spacing="1.3" >54,649.49</text>
<path d="M1558 343.1H1702.5Q1706 343.1 1706 346.6V373.2Q1706 376.7 1702.5 376.7H1558Z" fill="#42937d"/>
<text x="1573.5" y="368.0" font-size="23.5" fill="#fff" textLength="120.9" lengthAdjust="spacingAndGlyphs" letter-spacing="1.3" >54,541.35</text>
<path d="M1558 414.9H1702.5Q1706 414.9 1706 418.4V445.0Q1706 448.5 1702.5 448.5H1558Z" fill="#e0474c"/>
<text x="1573.5" y="439.8" font-size="23.5" fill="#fff" textLength="121.4" lengthAdjust="spacingAndGlyphs" letter-spacing="1.3" >54,413.83</text>
<path d="M1558 517.9H1704.5Q1708 517.9 1708 521.4V548.0Q1708 551.5 1704.5 551.5H1558Z" fill="#42937d"/>
<text x="1573.5" y="542.8" font-size="23.5" fill="#fff" textLength="122.3" lengthAdjust="spacingAndGlyphs" letter-spacing="1.3" >54,229.72</text>
<path d="M1558 591.2H1698.5Q1702 591.2 1702 594.7V621.3Q1702 624.8 1698.5 624.8H1558Z" fill="#f09b38"/>
<text x="1573.5" y="616.1" font-size="23.5" fill="#111" textLength="116.9" lengthAdjust="spacingAndGlyphs" letter-spacing="1.3" >54,101.42</text>
<path d="M1558 648.8H1652.5Q1656 648.8 1656 652.3V677.9Q1656 681.4 1652.5 681.4H1558Z" fill="#4ca79d"/>
<text x="1574.2" y="673.2" font-size="23.5" fill="#fff" textLength="71.4" lengthAdjust="spacingAndGlyphs" letter-spacing="1.3" >11.7 M</text>
<path d="M1558 682.6H1702.5Q1706 682.6 1706 686.1V712.7Q1706 716.2 1702.5 716.2H1558Z" fill="#c94ff0"/>
<text x="1574.2" y="707.5" font-size="23.5" fill="#fff" textLength="120.2" lengthAdjust="spacingAndGlyphs" letter-spacing="1.3" >53,941.04</text>
<text x="18.4" y="819.6" font-size="23.5" fill="#0f0f0f" textLength="34.5" lengthAdjust="spacingAndGlyphs" letter-spacing="1.3" font-weight="bold" >29</text>
<text x="163.4" y="819.6" font-size="23.5" fill="#0f0f0f" textLength="68.7" lengthAdjust="spacingAndGlyphs" letter-spacing="1.3" >10:00</text>
<text x="271.3" y="819.6" font-size="23.5" fill="#0f0f0f" textLength="68.7" lengthAdjust="spacingAndGlyphs" letter-spacing="1.3" >10:30</text>
<text x="381.1" y="819.6" font-size="23.5" fill="#0f0f0f" textLength="64.9" lengthAdjust="spacingAndGlyphs" letter-spacing="1.3" >11:00</text>
<text x="489.3" y="819.6" font-size="23.5" fill="#0f0f0f" textLength="64.3" lengthAdjust="spacingAndGlyphs" letter-spacing="1.3" >11:30</text>
<text x="595.5" y="819.6" font-size="23.5" fill="#0f0f0f" textLength="67.7" lengthAdjust="spacingAndGlyphs" letter-spacing="1.3" >12:00</text>
<text x="703.5" y="819.6" font-size="23.5" fill="#0f0f0f" textLength="67.7" lengthAdjust="spacingAndGlyphs" letter-spacing="1.3" >12:30</text>
<text x="810.9" y="819.6" font-size="23.5" fill="#0f0f0f" textLength="68.7" lengthAdjust="spacingAndGlyphs" letter-spacing="1.3" >13:00</text>
<text x="918.8" y="819.6" font-size="23.5" fill="#0f0f0f" textLength="68.7" lengthAdjust="spacingAndGlyphs" letter-spacing="1.3" >13:30</text>
<text x="1026.8" y="819.6" font-size="23.5" fill="#0f0f0f" textLength="68.5" lengthAdjust="spacingAndGlyphs" letter-spacing="1.3" >14:00</text>
<text x="1134.3" y="819.6" font-size="23.5" fill="#0f0f0f" textLength="69.4" lengthAdjust="spacingAndGlyphs" letter-spacing="1.3" >14:30</text>
<text x="1242.9" y="819.6" font-size="23.5" fill="#0f0f0f" textLength="68.1" lengthAdjust="spacingAndGlyphs" letter-spacing="1.3" >15:00</text>
<text x="1368.7" y="819.6" font-size="23.5" fill="#0f0f0f" textLength="32.1" lengthAdjust="spacingAndGlyphs" letter-spacing="1.3" >30</text>
<text x="1457.1" y="819.6" font-size="23.5" fill="#0f0f0f" textLength="71.9" lengthAdjust="spacingAndGlyphs" letter-spacing="1.3" >09:45</text>
<g fill="none" stroke="#0f0f0f" stroke-width="1.9" stroke-linejoin="round"><polygon points="1625.6,811.9 1632.3,800.4 1645.9,800.4 1652.4,811.9 1645.9,823.5 1632.3,823.5"/><circle cx="1639" cy="811.9" r="4"/></g>
</svg>
</body></html>
